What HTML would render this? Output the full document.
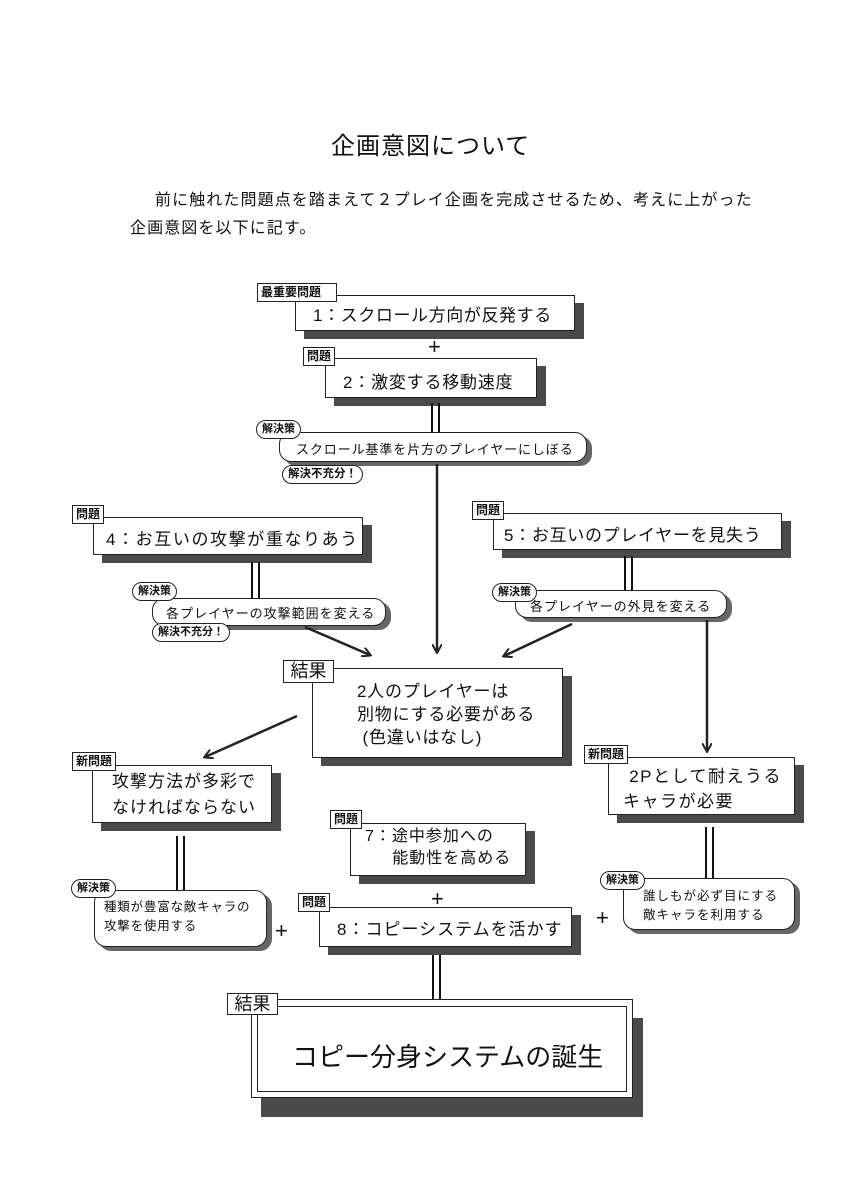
<!DOCTYPE html>
<html><head><meta charset="utf-8"><style>
body{margin:0;background:#fff;}
#p{position:relative;width:849px;height:1200px;overflow:hidden;background:#fff;font-family:"Liberation Sans","Noto Sans CJK JP",sans-serif;color:#111;}
.a{position:absolute;white-space:nowrap;}
.box{position:absolute;background:#fff;border:1.5px solid #222;box-shadow:9px 8px 0 #4a4a4a;box-sizing:border-box;}
.tag{position:absolute;background:#fff;border:1.5px solid #222;font-size:12px;line-height:17px;padding:0 3px;box-sizing:border-box;z-index:3;font-weight:bold;}
.pill{position:absolute;background:#fff;border:1.5px solid #222;border-radius:12px;box-sizing:border-box;box-shadow:5px 4px 0 #666;}
.ptag{position:absolute;background:#fff;border:1.5px solid #222;border-radius:10px;font-size:11px;line-height:17px;padding:0 5px;z-index:3;font-weight:bold;}
.t{position:absolute;white-space:nowrap;z-index:4;}
.dl{position:absolute;border-left:2px solid #111;border-right:2px solid #111;width:5px;}
.plus{position:absolute;font-size:22px;line-height:22px;z-index:4;}
</style></head><body><div id="p">
<div class="a" style="left:331px;top:126px;font-size:24px;letter-spacing:1px;">企画意図について</div>
<div class="a" style="left:155px;top:186px;font-size:16px;letter-spacing:1.1px;">前に触れた問題点を踏まえて２プレイ企画を完成させるため、考えに上がった</div>
<div class="a" style="left:130px;top:214px;font-size:16px;letter-spacing:1.1px;">企画意図を以下に記す。</div>

<div class="box" style="left:295px;top:295px;width:280px;height:36px;"></div>
<div class="tag" style="left:257px;top:283px;width:80px;">最重要問題</div>
<div class="t" style="left:313px;top:301px;font-size:17px;letter-spacing:0.6px;">1：スクロール方向が反発する</div>
<div class="plus" style="left:428px;top:336px;">+</div>
<div class="box" style="left:325px;top:358px;width:212px;height:40px;"></div>
<div class="tag" style="left:303px;top:347px;">問題</div>
<div class="t" style="left:343px;top:368px;font-size:17px;letter-spacing:0.8px;">2：激変する移動速度</div>
<div class="dl" style="left:431px;top:403px;height:30px;"></div>
<div class="pill" style="left:279px;top:432px;width:308px;height:30px;"></div>
<div class="ptag" style="left:256px;top:420px;">解決策</div>
<div class="t" style="left:296px;top:439px;font-size:13px;letter-spacing:0.9px;">スクロール基準を片方のプレイヤーにしぼる</div>
<div class="ptag" style="left:282px;top:465px;font-size:11.5px;">解決不充分！</div>

<div class="box" style="left:93px;top:517px;width:270px;height:38px;"></div>
<div class="tag" style="left:72px;top:505px;">問題</div>
<div class="t" style="left:106px;top:525px;font-size:17px;letter-spacing:1.6px;">4：お互いの攻撃が重なりあう</div>
<div class="box" style="left:493px;top:513px;width:289px;height:37px;"></div>
<div class="tag" style="left:472px;top:501px;">問題</div>
<div class="t" style="left:504px;top:521px;font-size:17px;letter-spacing:0.7px;">5：お互いのプレイヤーを見失う</div>
<div class="dl" style="left:251px;top:562px;height:36px;"></div>
<div class="dl" style="left:624px;top:556px;height:34px;"></div>
<div class="pill" style="left:152px;top:598px;width:234px;height:28px;"></div>
<div class="ptag" style="left:132px;top:582px;">解決策</div>
<div class="t" style="left:166px;top:603px;font-size:13px;letter-spacing:1px;">各プレイヤーの攻撃範囲を変える</div>
<div class="ptag" style="left:152px;top:623px;font-size:11px;">解決不充分！</div>
<div class="pill" style="left:515px;top:590px;width:212px;height:28px;"></div>
<div class="ptag" style="left:492px;top:583px;">解決策</div>
<div class="t" style="left:530px;top:596px;font-size:13px;letter-spacing:1px;">各プレイヤーの外見を変える</div>

<div class="box" style="left:312px;top:668px;width:251px;height:90px;"></div>
<div class="tag" style="left:283px;top:660px;width:51px;font-size:18px;line-height:21px;font-weight:normal;text-align:center;">結果</div>
<div class="t" style="left:357px;top:680px;font-size:17px;line-height:23px;letter-spacing:0.8px;">2人のプレイヤーは<br>別物にする必要がある<br>&nbsp;(色違いはなし)</div>

<div class="box" style="left:92px;top:765px;width:180px;height:58px;"></div>
<div class="tag" style="left:72px;top:752px;">新問題</div>
<div class="t" style="left:112px;top:769px;font-size:17px;line-height:26px;letter-spacing:1px;">攻撃方法が多彩で<br>なければならない</div>
<div class="box" style="left:608px;top:757px;width:187px;height:58px;"></div>
<div class="tag" style="left:584px;top:745px;">新問題</div>
<div class="t" style="left:623px;top:764px;font-size:17px;line-height:25px;letter-spacing:1.5px;">&nbsp;2Pとして耐えうる<br>キャラが必要</div>

<div class="box" style="left:350px;top:823px;width:176px;height:53px;"></div>
<div class="tag" style="left:330px;top:810px;">問題</div>
<div class="t" style="left:365px;top:826px;font-size:16px;line-height:22px;letter-spacing:1px;">7：途中参加への<br>&nbsp;&nbsp;&nbsp;&nbsp;&nbsp;能動性を高める</div>
<div class="plus" style="left:431px;top:888px;">+</div>
<div class="box" style="left:319px;top:907px;width:253px;height:40px;"></div>
<div class="tag" style="left:298px;top:893px;">問題</div>
<div class="t" style="left:337px;top:915px;font-size:17px;letter-spacing:1px;">8：コピーシステムを活かす</div>
<div class="plus" style="left:275px;top:920px;">+</div>
<div class="plus" style="left:596px;top:907px;">+</div>
<div class="dl" style="left:176px;top:836px;height:54px;"></div>
<div class="dl" style="left:705px;top:827px;height:51px;"></div>
<div class="dl" style="left:432px;top:955px;height:44px;"></div>

<div class="pill" style="left:94px;top:890px;width:173px;height:57px;"></div>
<div class="ptag" style="left:71px;top:879px;">解決策</div>
<div class="t" style="left:104px;top:898px;font-size:12.5px;line-height:19px;letter-spacing:0.8px;">種類が豊富な敵キャラの<br>攻撃を使用する</div>
<div class="pill" style="left:623px;top:878px;width:172px;height:52px;"></div>
<div class="ptag" style="left:600px;top:871px;">解決策</div>
<div class="t" style="left:643px;top:887px;font-size:12.5px;line-height:19px;letter-spacing:1px;">誰しもが必ず目にする<br>敵キャラを利用する</div>

<div class="box" style="left:251px;top:999px;width:382px;height:99px;box-shadow:10px 19px 0 #4a4a4a;"></div>
<div style="position:absolute;left:257px;top:1006px;width:370px;height:86px;border:1px solid #222;box-sizing:border-box;"></div>
<div class="tag" style="left:227px;top:993px;width:51px;font-size:18px;line-height:20px;font-weight:normal;text-align:center;">結果</div>
<div class="t" style="left:292px;top:1037px;font-size:26px;letter-spacing:0px;">コピー分身システムの誕生</div>

<svg width="849" height="1200" style="position:absolute;left:0;top:0;z-index:5;pointer-events:none">
<defs><marker id="ar" markerWidth="10" markerHeight="10" refX="8" refY="5" orient="auto" markerUnits="userSpaceOnUse"><path d="M0,0 L9,5 L0,10" fill="none" stroke="#222" stroke-width="2"/></marker></defs>
<g stroke="#222" stroke-width="2.5" fill="none">
<line x1="437" y1="464" x2="437" y2="652" marker-end="url(#ar)"/>
<line x1="305" y1="627" x2="370" y2="655" marker-end="url(#ar)"/>
<line x1="572" y1="624" x2="504" y2="656" marker-end="url(#ar)"/>
<line x1="297" y1="716" x2="205" y2="757" marker-end="url(#ar)"/>
<line x1="707" y1="620" x2="707" y2="751" marker-end="url(#ar)"/>
</g></svg>
</div></body></html>
